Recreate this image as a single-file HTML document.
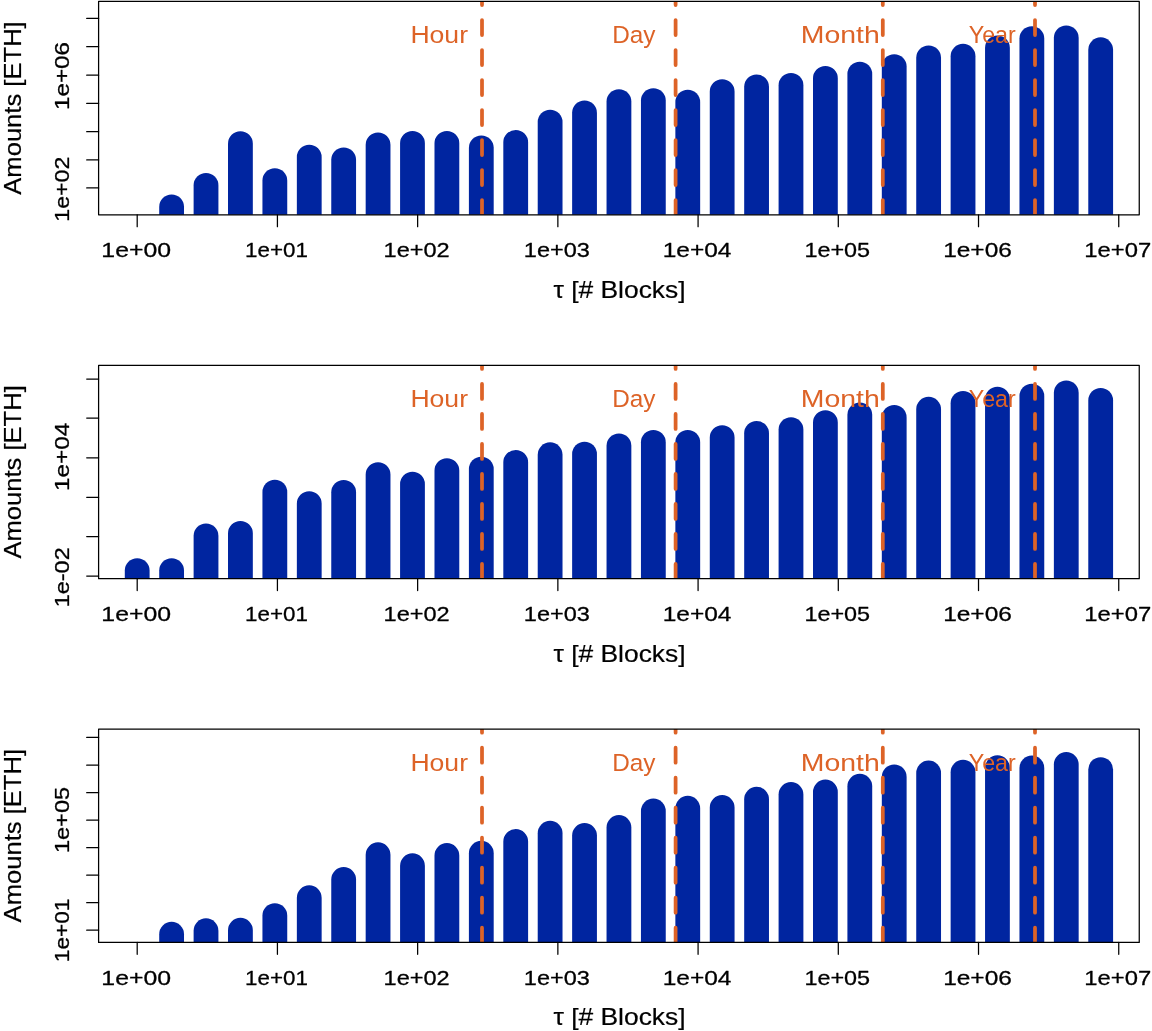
<!DOCTYPE html>
<html><head><meta charset="utf-8"><title>Amounts vs tau</title>
<style>
html,body{margin:0;padding:0;background:#fff;}
body{width:1152px;height:1031px;overflow:hidden;}
svg{display:block;}
text{font-family:"Liberation Sans",sans-serif;}
#w{will-change:transform;}
.k{fill:#000;stroke:#000;stroke-width:0.3;stroke-linejoin:round;}
.t{stroke-width:0.2;}
.o{fill:#DD6327;}
.ln{stroke:#000;stroke-width:1.25;fill:none;stroke-linejoin:round;stroke-linecap:round;}
</style></head><body><div id="w">
<svg width="1152" height="1031" viewBox="0 0 1152 1031">
<rect width="1152" height="1031" fill="#fff"/>
<defs><clipPath id="cp"><rect x="98.60" y="1.40" width="1040.65" height="213.35"/></clipPath></defs>
<g transform="translate(0,0.00)">
<g clip-path="url(#cp)" fill="#0025A0">
<path d="M159.21 219.8 V206.85 A12.40 12.40 0 0 1 184.01 206.85 V219.8 Z"/>
<path d="M193.62 219.8 V185.35 A12.40 12.40 0 0 1 218.42 185.35 V219.8 Z"/>
<path d="M228.03 219.8 V143.60 A12.40 12.40 0 0 1 252.83 143.60 V219.8 Z"/>
<path d="M262.44 219.8 V180.60 A12.40 12.40 0 0 1 287.24 180.60 V219.8 Z"/>
<path d="M296.85 219.8 V157.10 A12.40 12.40 0 0 1 321.65 157.10 V219.8 Z"/>
<path d="M331.26 219.8 V159.85 A12.40 12.40 0 0 1 356.06 159.85 V219.8 Z"/>
<path d="M365.67 219.8 V144.85 A12.40 12.40 0 0 1 390.47 144.85 V219.8 Z"/>
<path d="M400.08 219.8 V143.35 A12.40 12.40 0 0 1 424.88 143.35 V219.8 Z"/>
<path d="M434.49 219.8 V143.35 A12.40 12.40 0 0 1 459.29 143.35 V219.8 Z"/>
<path d="M468.90 219.8 V147.85 A12.40 12.40 0 0 1 493.70 147.85 V219.8 Z"/>
<path d="M503.31 219.8 V142.35 A12.40 12.40 0 0 1 528.11 142.35 V219.8 Z"/>
<path d="M537.72 219.8 V122.10 A12.40 12.40 0 0 1 562.52 122.10 V219.8 Z"/>
<path d="M572.13 219.8 V112.85 A12.40 12.40 0 0 1 596.93 112.85 V219.8 Z"/>
<path d="M606.54 219.8 V101.60 A12.40 12.40 0 0 1 631.34 101.60 V219.8 Z"/>
<path d="M640.95 219.8 V100.60 A12.40 12.40 0 0 1 665.75 100.60 V219.8 Z"/>
<path d="M675.36 219.8 V102.10 A12.40 12.40 0 0 1 700.16 102.10 V219.8 Z"/>
<path d="M709.77 219.8 V91.60 A12.40 12.40 0 0 1 734.57 91.60 V219.8 Z"/>
<path d="M744.18 219.8 V86.85 A12.40 12.40 0 0 1 768.98 86.85 V219.8 Z"/>
<path d="M778.59 219.8 V85.35 A12.40 12.40 0 0 1 803.39 85.35 V219.8 Z"/>
<path d="M813.00 219.8 V78.35 A12.40 12.40 0 0 1 837.80 78.35 V219.8 Z"/>
<path d="M847.41 219.8 V74.10 A12.40 12.40 0 0 1 872.21 74.10 V219.8 Z"/>
<path d="M881.82 219.8 V66.60 A12.40 12.40 0 0 1 906.62 66.60 V219.8 Z"/>
<path d="M916.23 219.8 V57.85 A12.40 12.40 0 0 1 941.03 57.85 V219.8 Z"/>
<path d="M950.64 219.8 V56.25 A12.40 12.40 0 0 1 975.44 56.25 V219.8 Z"/>
<path d="M985.05 219.8 V47.85 A12.40 12.40 0 0 1 1009.85 47.85 V219.8 Z"/>
<path d="M1019.46 219.8 V38.60 A12.40 12.40 0 0 1 1044.26 38.60 V219.8 Z"/>
<path d="M1053.87 219.8 V37.85 A12.40 12.40 0 0 1 1078.67 37.85 V219.8 Z"/>
<path d="M1088.28 219.8 V49.65 A12.40 12.40 0 0 1 1113.08 49.65 V219.8 Z"/>
</g>
<g clip-path="url(#cp)" stroke="#DD6327" stroke-width="3.75" stroke-linecap="round" stroke-dasharray="15 15" fill="none">
<line x1="482.00" y1="-10" x2="482.00" y2="235"/>
<line x1="675.60" y1="-10" x2="675.60" y2="235"/>
<line x1="882.80" y1="-10" x2="882.80" y2="235"/>
<line x1="1035.00" y1="-10" x2="1035.00" y2="235"/>
</g>
<text class="o" x="439.20" y="43.2" font-size="24.5" text-anchor="middle" textLength="57.6" lengthAdjust="spacingAndGlyphs">Hour</text>
<text class="o" x="633.90" y="43.2" font-size="24.5" text-anchor="middle" textLength="43.3" lengthAdjust="spacingAndGlyphs">Day</text>
<text class="o" x="840.30" y="43.2" font-size="24.5" text-anchor="middle" textLength="79.0" lengthAdjust="spacingAndGlyphs">Month</text>
<text class="o" x="992.25" y="43.2" font-size="24.5" text-anchor="middle" textLength="47.0" lengthAdjust="spacingAndGlyphs">Year</text>
<rect class="ln" x="98.60" y="1.40" width="1040.65" height="213.35"/>
<line class="ln" x1="137.20" y1="214.75" x2="137.20" y2="226.65"/>
<text class="k" x="136.20" y="256.9" font-size="21" text-anchor="middle" textLength="69.7" lengthAdjust="spacingAndGlyphs">1e+00</text>
<line class="ln" x1="277.42" y1="214.75" x2="277.42" y2="226.65"/>
<text class="k" x="276.42" y="256.9" font-size="21" text-anchor="middle" textLength="62.8" lengthAdjust="spacingAndGlyphs">1e+01</text>
<line class="ln" x1="417.64" y1="214.75" x2="417.64" y2="226.65"/>
<text class="k" x="416.64" y="256.9" font-size="21" text-anchor="middle" textLength="66.2" lengthAdjust="spacingAndGlyphs">1e+02</text>
<line class="ln" x1="557.86" y1="214.75" x2="557.86" y2="226.65"/>
<text class="k" x="556.86" y="256.9" font-size="21" text-anchor="middle" textLength="66.0" lengthAdjust="spacingAndGlyphs">1e+03</text>
<line class="ln" x1="698.08" y1="214.75" x2="698.08" y2="226.65"/>
<text class="k" x="697.08" y="256.9" font-size="21" text-anchor="middle" textLength="68.7" lengthAdjust="spacingAndGlyphs">1e+04</text>
<line class="ln" x1="838.30" y1="214.75" x2="838.30" y2="226.65"/>
<text class="k" x="837.30" y="256.9" font-size="21" text-anchor="middle" textLength="65.7" lengthAdjust="spacingAndGlyphs">1e+05</text>
<line class="ln" x1="978.52" y1="214.75" x2="978.52" y2="226.65"/>
<text class="k" x="977.52" y="256.9" font-size="21" text-anchor="middle" textLength="68.7" lengthAdjust="spacingAndGlyphs">1e+06</text>
<line class="ln" x1="1118.74" y1="214.75" x2="1118.74" y2="226.65"/>
<text class="k" x="1117.74" y="256.9" font-size="21" text-anchor="middle" textLength="66.9" lengthAdjust="spacingAndGlyphs">1e+07</text>
<line class="ln" x1="86.70" y1="18.40" x2="98.60" y2="18.40"/>
<line class="ln" x1="86.70" y1="46.65" x2="98.60" y2="46.65"/>
<line class="ln" x1="86.70" y1="75.15" x2="98.60" y2="75.15"/>
<line class="ln" x1="86.70" y1="103.40" x2="98.60" y2="103.40"/>
<line class="ln" x1="86.70" y1="131.65" x2="98.60" y2="131.65"/>
<line class="ln" x1="86.70" y1="159.90" x2="98.60" y2="159.90"/>
<line class="ln" x1="86.70" y1="187.90" x2="98.60" y2="187.90"/>
<text class="k" transform="translate(68.6,76.00) rotate(-90)" font-size="21" text-anchor="middle" textLength="68.2" lengthAdjust="spacingAndGlyphs">1e+06</text>
<text class="k" transform="translate(68.6,189.20) rotate(-90)" font-size="21" text-anchor="middle" textLength="64.9" lengthAdjust="spacingAndGlyphs">1e+02</text>
<text class="k t" x="619.5" y="297.7" font-size="24" text-anchor="middle" textLength="132.2" lengthAdjust="spacingAndGlyphs">τ [# Blocks]</text>
<text class="k t" transform="translate(21.2,108.0) rotate(-90)" font-size="24" text-anchor="middle" textLength="173.4" lengthAdjust="spacingAndGlyphs">Amounts [ETH]</text>
</g>
<g transform="translate(0,363.90)">
<g clip-path="url(#cp)" fill="#0025A0">
<path d="M124.80 219.8 V206.70 A12.40 12.40 0 0 1 149.60 206.70 V219.8 Z"/>
<path d="M159.21 219.8 V206.70 A12.40 12.40 0 0 1 184.01 206.70 V219.8 Z"/>
<path d="M193.62 219.8 V171.95 A12.40 12.40 0 0 1 218.42 171.95 V219.8 Z"/>
<path d="M228.03 219.8 V169.45 A12.40 12.40 0 0 1 252.83 169.45 V219.8 Z"/>
<path d="M262.44 219.8 V128.20 A12.40 12.40 0 0 1 287.24 128.20 V219.8 Z"/>
<path d="M296.85 219.8 V139.70 A12.40 12.40 0 0 1 321.65 139.70 V219.8 Z"/>
<path d="M331.26 219.8 V128.45 A12.40 12.40 0 0 1 356.06 128.45 V219.8 Z"/>
<path d="M365.67 219.8 V110.70 A12.40 12.40 0 0 1 390.47 110.70 V219.8 Z"/>
<path d="M400.08 219.8 V120.20 A12.40 12.40 0 0 1 424.88 120.20 V219.8 Z"/>
<path d="M434.49 219.8 V106.70 A12.40 12.40 0 0 1 459.29 106.70 V219.8 Z"/>
<path d="M468.90 219.8 V105.20 A12.40 12.40 0 0 1 493.70 105.20 V219.8 Z"/>
<path d="M503.31 219.8 V98.45 A12.40 12.40 0 0 1 528.11 98.45 V219.8 Z"/>
<path d="M537.72 219.8 V90.85 A12.40 12.40 0 0 1 562.52 90.85 V219.8 Z"/>
<path d="M572.13 219.8 V90.20 A12.40 12.40 0 0 1 596.93 90.20 V219.8 Z"/>
<path d="M606.54 219.8 V81.95 A12.40 12.40 0 0 1 631.34 81.95 V219.8 Z"/>
<path d="M640.95 219.8 V78.45 A12.40 12.40 0 0 1 665.75 78.45 V219.8 Z"/>
<path d="M675.36 219.8 V78.45 A12.40 12.40 0 0 1 700.16 78.45 V219.8 Z"/>
<path d="M709.77 219.8 V73.70 A12.40 12.40 0 0 1 734.57 73.70 V219.8 Z"/>
<path d="M744.18 219.8 V69.45 A12.40 12.40 0 0 1 768.98 69.45 V219.8 Z"/>
<path d="M778.59 219.8 V65.70 A12.40 12.40 0 0 1 803.39 65.70 V219.8 Z"/>
<path d="M813.00 219.8 V58.65 A12.40 12.40 0 0 1 837.80 58.65 V219.8 Z"/>
<path d="M847.41 219.8 V50.95 A12.40 12.40 0 0 1 872.21 50.95 V219.8 Z"/>
<path d="M881.82 219.8 V53.45 A12.40 12.40 0 0 1 906.62 53.45 V219.8 Z"/>
<path d="M916.23 219.8 V45.35 A12.40 12.40 0 0 1 941.03 45.35 V219.8 Z"/>
<path d="M950.64 219.8 V39.45 A12.40 12.40 0 0 1 975.44 39.45 V219.8 Z"/>
<path d="M985.05 219.8 V35.20 A12.40 12.40 0 0 1 1009.85 35.20 V219.8 Z"/>
<path d="M1019.46 219.8 V32.20 A12.40 12.40 0 0 1 1044.26 32.20 V219.8 Z"/>
<path d="M1053.87 219.8 V28.95 A12.40 12.40 0 0 1 1078.67 28.95 V219.8 Z"/>
<path d="M1088.28 219.8 V36.45 A12.40 12.40 0 0 1 1113.08 36.45 V219.8 Z"/>
</g>
<g clip-path="url(#cp)" stroke="#DD6327" stroke-width="3.75" stroke-linecap="round" stroke-dasharray="15 15" fill="none">
<line x1="482.00" y1="-10" x2="482.00" y2="235"/>
<line x1="675.60" y1="-10" x2="675.60" y2="235"/>
<line x1="882.80" y1="-10" x2="882.80" y2="235"/>
<line x1="1035.00" y1="-10" x2="1035.00" y2="235"/>
</g>
<text class="o" x="439.20" y="43.2" font-size="24.5" text-anchor="middle" textLength="57.6" lengthAdjust="spacingAndGlyphs">Hour</text>
<text class="o" x="633.90" y="43.2" font-size="24.5" text-anchor="middle" textLength="43.3" lengthAdjust="spacingAndGlyphs">Day</text>
<text class="o" x="840.30" y="43.2" font-size="24.5" text-anchor="middle" textLength="79.0" lengthAdjust="spacingAndGlyphs">Month</text>
<text class="o" x="992.25" y="43.2" font-size="24.5" text-anchor="middle" textLength="47.0" lengthAdjust="spacingAndGlyphs">Year</text>
<rect class="ln" x="98.60" y="1.40" width="1040.65" height="213.35"/>
<line class="ln" x1="137.20" y1="214.75" x2="137.20" y2="226.65"/>
<text class="k" x="136.20" y="256.9" font-size="21" text-anchor="middle" textLength="69.7" lengthAdjust="spacingAndGlyphs">1e+00</text>
<line class="ln" x1="277.42" y1="214.75" x2="277.42" y2="226.65"/>
<text class="k" x="276.42" y="256.9" font-size="21" text-anchor="middle" textLength="62.8" lengthAdjust="spacingAndGlyphs">1e+01</text>
<line class="ln" x1="417.64" y1="214.75" x2="417.64" y2="226.65"/>
<text class="k" x="416.64" y="256.9" font-size="21" text-anchor="middle" textLength="66.2" lengthAdjust="spacingAndGlyphs">1e+02</text>
<line class="ln" x1="557.86" y1="214.75" x2="557.86" y2="226.65"/>
<text class="k" x="556.86" y="256.9" font-size="21" text-anchor="middle" textLength="66.0" lengthAdjust="spacingAndGlyphs">1e+03</text>
<line class="ln" x1="698.08" y1="214.75" x2="698.08" y2="226.65"/>
<text class="k" x="697.08" y="256.9" font-size="21" text-anchor="middle" textLength="68.7" lengthAdjust="spacingAndGlyphs">1e+04</text>
<line class="ln" x1="838.30" y1="214.75" x2="838.30" y2="226.65"/>
<text class="k" x="837.30" y="256.9" font-size="21" text-anchor="middle" textLength="65.7" lengthAdjust="spacingAndGlyphs">1e+05</text>
<line class="ln" x1="978.52" y1="214.75" x2="978.52" y2="226.65"/>
<text class="k" x="977.52" y="256.9" font-size="21" text-anchor="middle" textLength="68.7" lengthAdjust="spacingAndGlyphs">1e+06</text>
<line class="ln" x1="1118.74" y1="214.75" x2="1118.74" y2="226.65"/>
<text class="k" x="1117.74" y="256.9" font-size="21" text-anchor="middle" textLength="66.9" lengthAdjust="spacingAndGlyphs">1e+07</text>
<line class="ln" x1="86.70" y1="15.15" x2="98.60" y2="15.15"/>
<line class="ln" x1="86.70" y1="54.15" x2="98.60" y2="54.15"/>
<line class="ln" x1="86.70" y1="93.90" x2="98.60" y2="93.90"/>
<line class="ln" x1="86.70" y1="133.40" x2="98.60" y2="133.40"/>
<line class="ln" x1="86.70" y1="172.65" x2="98.60" y2="172.65"/>
<line class="ln" x1="86.70" y1="212.15" x2="98.60" y2="212.15"/>
<text class="k" transform="translate(68.6,93.00) rotate(-90)" font-size="21" text-anchor="middle" textLength="68.2" lengthAdjust="spacingAndGlyphs">1e+04</text>
<text class="k" transform="translate(68.6,213.40) rotate(-90)" font-size="21" text-anchor="middle" textLength="60.0" lengthAdjust="spacingAndGlyphs">1e-02</text>
<text class="k t" x="619.5" y="297.7" font-size="24" text-anchor="middle" textLength="132.2" lengthAdjust="spacingAndGlyphs">τ [# Blocks]</text>
<text class="k t" transform="translate(21.2,108.0) rotate(-90)" font-size="24" text-anchor="middle" textLength="173.4" lengthAdjust="spacingAndGlyphs">Amounts [ETH]</text>
</g>
<g transform="translate(0,727.70)">
<g clip-path="url(#cp)" fill="#0025A0">
<path d="M159.21 219.8 V206.55 A12.40 12.40 0 0 1 184.01 206.55 V219.8 Z"/>
<path d="M193.62 219.8 V203.05 A12.40 12.40 0 0 1 218.42 203.05 V219.8 Z"/>
<path d="M228.03 219.8 V202.55 A12.40 12.40 0 0 1 252.83 202.55 V219.8 Z"/>
<path d="M262.44 219.8 V187.90 A12.40 12.40 0 0 1 287.24 187.90 V219.8 Z"/>
<path d="M296.85 219.8 V170.05 A12.40 12.40 0 0 1 321.65 170.05 V219.8 Z"/>
<path d="M331.26 219.8 V151.80 A12.40 12.40 0 0 1 356.06 151.80 V219.8 Z"/>
<path d="M365.67 219.8 V127.05 A12.40 12.40 0 0 1 390.47 127.05 V219.8 Z"/>
<path d="M400.08 219.8 V138.05 A12.40 12.40 0 0 1 424.88 138.05 V219.8 Z"/>
<path d="M434.49 219.8 V127.80 A12.40 12.40 0 0 1 459.29 127.80 V219.8 Z"/>
<path d="M468.90 219.8 V125.55 A12.40 12.40 0 0 1 493.70 125.55 V219.8 Z"/>
<path d="M503.31 219.8 V113.80 A12.40 12.40 0 0 1 528.11 113.80 V219.8 Z"/>
<path d="M537.72 219.8 V105.55 A12.40 12.40 0 0 1 562.52 105.55 V219.8 Z"/>
<path d="M572.13 219.8 V107.80 A12.40 12.40 0 0 1 596.93 107.80 V219.8 Z"/>
<path d="M606.54 219.8 V99.80 A12.40 12.40 0 0 1 631.34 99.80 V219.8 Z"/>
<path d="M640.95 219.8 V83.30 A12.40 12.40 0 0 1 665.75 83.30 V219.8 Z"/>
<path d="M675.36 219.8 V80.55 A12.40 12.40 0 0 1 700.16 80.55 V219.8 Z"/>
<path d="M709.77 219.8 V79.80 A12.40 12.40 0 0 1 734.57 79.80 V219.8 Z"/>
<path d="M744.18 219.8 V71.55 A12.40 12.40 0 0 1 768.98 71.55 V219.8 Z"/>
<path d="M778.59 219.8 V66.80 A12.40 12.40 0 0 1 803.39 66.80 V219.8 Z"/>
<path d="M813.00 219.8 V64.30 A12.40 12.40 0 0 1 837.80 64.30 V219.8 Z"/>
<path d="M847.41 219.8 V58.55 A12.40 12.40 0 0 1 872.21 58.55 V219.8 Z"/>
<path d="M881.82 219.8 V49.05 A12.40 12.40 0 0 1 906.62 49.05 V219.8 Z"/>
<path d="M916.23 219.8 V45.30 A12.40 12.40 0 0 1 941.03 45.30 V219.8 Z"/>
<path d="M950.64 219.8 V44.55 A12.40 12.40 0 0 1 975.44 44.55 V219.8 Z"/>
<path d="M985.05 219.8 V40.05 A12.40 12.40 0 0 1 1009.85 40.05 V219.8 Z"/>
<path d="M1019.46 219.8 V40.30 A12.40 12.40 0 0 1 1044.26 40.30 V219.8 Z"/>
<path d="M1053.87 219.8 V36.80 A12.40 12.40 0 0 1 1078.67 36.80 V219.8 Z"/>
<path d="M1088.28 219.8 V41.80 A12.40 12.40 0 0 1 1113.08 41.80 V219.8 Z"/>
</g>
<g clip-path="url(#cp)" stroke="#DD6327" stroke-width="3.75" stroke-linecap="round" stroke-dasharray="15 15" fill="none">
<line x1="482.00" y1="-10" x2="482.00" y2="235"/>
<line x1="675.60" y1="-10" x2="675.60" y2="235"/>
<line x1="882.80" y1="-10" x2="882.80" y2="235"/>
<line x1="1035.00" y1="-10" x2="1035.00" y2="235"/>
</g>
<text class="o" x="439.20" y="43.2" font-size="24.5" text-anchor="middle" textLength="57.6" lengthAdjust="spacingAndGlyphs">Hour</text>
<text class="o" x="633.90" y="43.2" font-size="24.5" text-anchor="middle" textLength="43.3" lengthAdjust="spacingAndGlyphs">Day</text>
<text class="o" x="840.30" y="43.2" font-size="24.5" text-anchor="middle" textLength="79.0" lengthAdjust="spacingAndGlyphs">Month</text>
<text class="o" x="992.25" y="43.2" font-size="24.5" text-anchor="middle" textLength="47.0" lengthAdjust="spacingAndGlyphs">Year</text>
<rect class="ln" x="98.60" y="1.40" width="1040.65" height="213.35"/>
<line class="ln" x1="137.20" y1="214.75" x2="137.20" y2="226.65"/>
<text class="k" x="136.20" y="256.9" font-size="21" text-anchor="middle" textLength="69.7" lengthAdjust="spacingAndGlyphs">1e+00</text>
<line class="ln" x1="277.42" y1="214.75" x2="277.42" y2="226.65"/>
<text class="k" x="276.42" y="256.9" font-size="21" text-anchor="middle" textLength="62.8" lengthAdjust="spacingAndGlyphs">1e+01</text>
<line class="ln" x1="417.64" y1="214.75" x2="417.64" y2="226.65"/>
<text class="k" x="416.64" y="256.9" font-size="21" text-anchor="middle" textLength="66.2" lengthAdjust="spacingAndGlyphs">1e+02</text>
<line class="ln" x1="557.86" y1="214.75" x2="557.86" y2="226.65"/>
<text class="k" x="556.86" y="256.9" font-size="21" text-anchor="middle" textLength="66.0" lengthAdjust="spacingAndGlyphs">1e+03</text>
<line class="ln" x1="698.08" y1="214.75" x2="698.08" y2="226.65"/>
<text class="k" x="697.08" y="256.9" font-size="21" text-anchor="middle" textLength="68.7" lengthAdjust="spacingAndGlyphs">1e+04</text>
<line class="ln" x1="838.30" y1="214.75" x2="838.30" y2="226.65"/>
<text class="k" x="837.30" y="256.9" font-size="21" text-anchor="middle" textLength="65.7" lengthAdjust="spacingAndGlyphs">1e+05</text>
<line class="ln" x1="978.52" y1="214.75" x2="978.52" y2="226.65"/>
<text class="k" x="977.52" y="256.9" font-size="21" text-anchor="middle" textLength="68.7" lengthAdjust="spacingAndGlyphs">1e+06</text>
<line class="ln" x1="1118.74" y1="214.75" x2="1118.74" y2="226.65"/>
<text class="k" x="1117.74" y="256.9" font-size="21" text-anchor="middle" textLength="66.9" lengthAdjust="spacingAndGlyphs">1e+07</text>
<line class="ln" x1="86.70" y1="9.70" x2="98.60" y2="9.70"/>
<line class="ln" x1="86.70" y1="37.45" x2="98.60" y2="37.45"/>
<line class="ln" x1="86.70" y1="64.95" x2="98.60" y2="64.95"/>
<line class="ln" x1="86.70" y1="92.45" x2="98.60" y2="92.45"/>
<line class="ln" x1="86.70" y1="119.95" x2="98.60" y2="119.95"/>
<line class="ln" x1="86.70" y1="147.45" x2="98.60" y2="147.45"/>
<line class="ln" x1="86.70" y1="174.95" x2="98.60" y2="174.95"/>
<line class="ln" x1="86.70" y1="202.45" x2="98.60" y2="202.45"/>
<text class="k" transform="translate(68.6,92.30) rotate(-90)" font-size="21" text-anchor="middle" textLength="66.2" lengthAdjust="spacingAndGlyphs">1e+05</text>
<text class="k" transform="translate(68.6,202.70) rotate(-90)" font-size="21" text-anchor="middle" textLength="63.6" lengthAdjust="spacingAndGlyphs">1e+01</text>
<text class="k t" x="619.5" y="297.7" font-size="24" text-anchor="middle" textLength="132.2" lengthAdjust="spacingAndGlyphs">τ [# Blocks]</text>
<text class="k t" transform="translate(21.2,108.0) rotate(-90)" font-size="24" text-anchor="middle" textLength="173.4" lengthAdjust="spacingAndGlyphs">Amounts [ETH]</text>
</g>
</svg>
</div></body></html>
